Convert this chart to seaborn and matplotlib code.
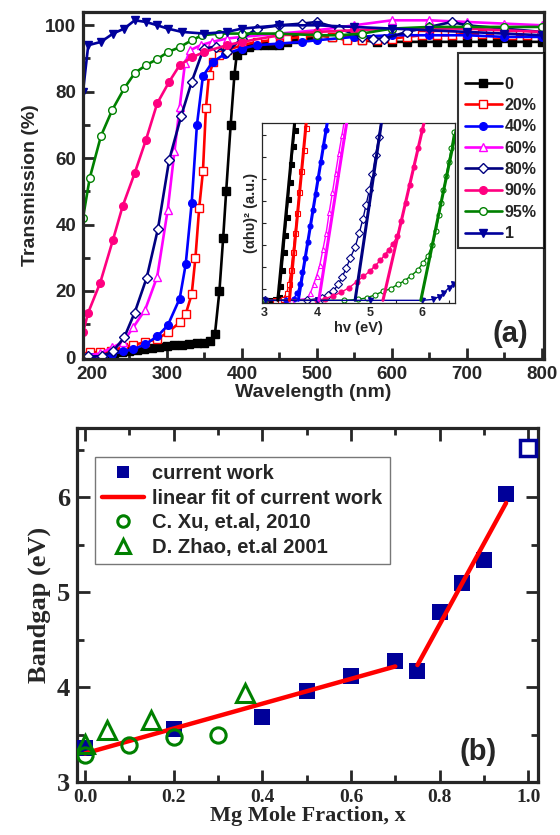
import numpy as np
import matplotlib
matplotlib.use("Agg")
import matplotlib.pyplot as plt
import seaborn as sns
from matplotlib.ticker import MultipleLocator

sns.set_style("ticks")
plt.rcParams['font.family'] = ['Liberation Sans', 'DejaVu Sans']

# ---------------- (a) transmission data ----------------
labels_a = ['0', '20%', '40%', '60%', '80%', '90%', '95%', '1']

wl_0 = [188, 200, 210, 220, 230, 240, 250, 260, 270, 280, 290, 300, 310, 320, 330, 340, 350, 358, 364, 370,
        375, 379, 385, 390, 393, 400, 410, 420, 430, 440, 450, 460, 470, 480, 490, 500, 520, 540, 560, 580,
        600, 620, 640, 660, 680, 700, 720, 740, 760, 780, 800]
T_0 = [0, 0.3, 0.6, 0.9, 1.2, 1.6, 2.0, 2.3, 2.6, 2.9, 3.2, 3.4, 3.6, 3.8, 4.0, 4.2, 4.4, 4.8, 7, 20,
       36, 50, 70, 85, 91, 92.5, 93.5, 94, 94, 94, 94, 95, 96, 96.5, 97, 97, 96.5, 96, 95.5, 95,
       95, 95, 95, 95, 95, 95, 95, 95, 95, 95, 95]

wl_20 = [188, 197, 211, 226, 241, 255, 271, 287, 301, 317, 325, 333, 338, 343, 348, 352, 356, 362, 370, 380,
         400, 420, 440, 460, 480, 500, 520, 540, 560, 580, 600, 620, 640, 660, 680, 700, 720, 740, 760, 780, 800]
T_20 = [0.5, 1.5, 1.5, 2, 3, 3.8, 4.5, 5.5, 7.5, 10.5, 13, 19, 30, 45, 56, 75, 85, 89, 91, 92.5,
        94, 95, 95.5, 96, 96.5, 97, 96.5, 95.5, 95.5, 95.5, 96, 96.5, 97, 97, 97, 97.5, 97.5, 97.5, 97, 97, 97]

wl_40 = [188, 200, 215, 227, 241, 255, 271, 287, 301, 317, 325, 333, 340, 348, 361, 377, 400, 420, 450, 480,
         500, 550, 600, 650, 700, 750, 800]
T_40 = [0, 0, 0.2, 1, 1.8, 2.4, 3.9, 6.3, 9.6, 17.7, 28, 46.5, 70, 84.7, 89, 91.3, 93, 94, 94.5, 95,
        95.5, 96.5, 97, 97, 97, 96.5, 96.5]

wl_60 = [195, 211, 227, 241, 255, 271, 287, 301, 310, 317, 324, 331, 345, 360, 380, 400, 450, 500, 550, 600,
         650, 700, 750, 800]
T_60 = [0.5, 1.2, 3, 4.5, 9, 14.4, 24.3, 44.4, 62, 75.4, 88.5, 92.5, 94, 95, 96, 96.5, 97.5, 98.5, 100, 101.5,
        101.5, 101, 100.5, 100]

wl_80 = [195, 213, 228, 243, 257, 273, 288, 303, 319, 333, 349, 365, 380, 400, 420, 450, 480, 500, 530, 560,
         575, 590, 620, 650, 680, 700, 750, 800]
T_80 = [0.3, 0.3, 1.8, 6, 13.5, 24, 38.7, 59.5, 72.7, 83, 93, 93.5, 92, 96, 99, 100, 100.5, 101, 99, 96.5,
        96, 96, 98, 99.5, 101, 100, 99, 98]

wl_90 = [188, 195, 211, 228, 241, 257, 272, 287, 303, 317, 333, 350, 380, 400, 450, 500, 550, 600, 650, 700,
         750, 800]
T_90 = [7.5, 13.5, 22.5, 35.4, 45.6, 55.5, 65.5, 76.5, 83, 88, 90.3, 92, 94, 95, 97, 98, 98.5, 99, 99, 99,
        98.5, 98]

wl_95 = [188, 197, 212, 227, 243, 257, 272, 287, 301, 317, 333, 347, 370, 400, 450, 500, 530, 560, 600, 650,
         700, 750, 800]
T_95 = [42, 54, 66.7, 74.5, 81, 85.6, 88, 89.8, 91.9, 93.4, 95.5, 97, 97.5, 97.5, 97.5, 97, 97, 97.5, 99, 99.5,
        99.5, 99.5, 99.5]

wl_1 = [188, 195, 212, 228, 243, 257, 272, 287, 301, 320, 350, 380, 400, 450, 500, 550, 600, 650, 700, 750, 800]
T_1 = [80, 94, 95, 97.5, 99, 101.5, 101, 100, 99, 98, 97.5, 98, 99, 100, 100, 99.5, 99, 98.5, 98, 97.5, 97]

# ---------------- (a) inset: Tauc plot ----------------
hv_0 = [3.00, 3.10, 3.20, 3.27, 3.30, 3.33, 3.36, 3.39, 3.42, 3.45, 3.48, 3.51, 3.54, 3.57, 3.60]
a_0 = [0, 0, 0.5, 2, 8, 17, 27, 37, 47, 57, 67, 77, 87, 96, 106]
hv_20 = [3.00, 3.20, 3.35, 3.42, 3.46, 3.50, 3.54, 3.58, 3.62, 3.66, 3.70, 3.74, 3.78, 3.82]
a_20 = [0, 0, 1, 4, 9, 17, 27, 38, 49, 61, 73, 85, 97, 109]
hv_40 = [3.00, 3.40, 3.55, 3.62, 3.67, 3.72, 3.77, 3.82, 3.87, 3.92, 3.97, 4.02, 4.07, 4.12, 4.17, 4.22]
a_40 = [0, 0, 1, 4, 9, 16, 24, 33, 42, 51, 60, 69, 78, 87, 96, 105]
hv_60 = [3.00, 3.50, 3.80, 3.87, 3.93, 3.99, 4.05, 4.11, 4.17, 4.23, 4.29, 4.35, 4.41, 4.47, 4.53, 4.58]
a_60 = [0, 0, 1, 4, 9, 14, 20, 29, 38, 50, 61, 72, 83, 93, 104, 112]
hv_80 = [3.00, 3.80, 4.10, 4.20, 4.30, 4.40, 4.47, 4.55, 4.63, 4.72, 4.80, 4.87, 4.93, 4.99, 5.05, 5.11, 5.17, 5.23]
a_80 = [0, 0, 1.5, 3, 5, 9, 13, 18, 24, 30, 38, 46, 54, 62, 71, 82, 92, 103]
hv_90 = [3.00, 4.00, 4.15, 4.30, 4.45, 4.60, 4.75, 4.88, 5.00, 5.10, 5.20, 5.28, 5.36, 5.44, 5.52, 5.60, 5.68,
         5.76, 5.84, 5.92, 6.00, 6.05]
a_90 = [0, 0, 1, 2.5, 4.5, 7, 10.5, 13.5, 16.5, 19.5, 22.5, 25.5, 28.5, 32, 36, 45, 55, 65, 75, 86, 96, 103]
hv_95 = [3.00, 4.50, 4.78, 4.95, 5.09, 5.25, 5.40, 5.53, 5.66, 5.79, 5.91, 6.01, 6.10, 6.19, 6.26, 6.31, 6.36,
         6.40, 6.45, 6.50, 6.55, 6.60]
a_95 = [0, 0, 0.5, 1.5, 3, 5, 6.6, 9, 11, 14, 17, 21, 25, 31, 39, 48, 55, 62, 70, 78, 86, 95]
hv_1 = [3.00, 4.00, 5.00, 6.00, 6.20, 6.31, 6.40, 6.50, 6.58]
a_1 = [0, 0, 0, 0, 0.5, 2, 4, 7, 9]
# linear-fit extrapolations: photon energy at zero and at full scale
fit_lo = [3.25, 3.47, 3.64, 4.03, 4.72, 5.25, 5.97]
fit_hi = [3.57, 3.79, 4.19, 4.56, 5.22, 6.03, 6.67]
inset_full = 100

# ---------------- (b) bandgap data ----------------
x_cur = [0.0, 0.2, 0.4, 0.5, 0.6, 0.7, 0.75, 0.8, 0.85, 0.9, 0.95]
eg_cur = [3.36, 3.56, 3.68, 3.96, 4.12, 4.27, 4.17, 4.79, 5.10, 5.34, 6.03]
x_mgo = [1.0]
eg_mgo = [6.52]
x_xu = [0.0, 0.1, 0.2, 0.3]
eg_xu = [3.28, 3.39, 3.47, 3.50]
x_zhao = [0.0, 0.05, 0.15, 0.36]
eg_zhao = [3.40, 3.55, 3.65, 3.94]
fit1_n = 6  # first six points -> low-x fit, remainder -> high-x fit

# ---------------- styles ----------------
colors_a = ['#000000', '#FF0000', '#0000FF', '#FF00FF', '#000080', '#FF0080', '#008000', '#00009C']
markers_a = ['s', 's', 'o', '^', 'D', 'o', 'o', 'v']
filled_a = [True, False, True, False, False, True, False, True]
NAVY = '#000099'
GREEN = '#008000'
RED = '#FF0000'


def draw(ax, x, y, color, marker=None, filled=True, ms=5, lw=1.8, mew=1.0, ls='-', z=2):
    kw = dict(color=color, linewidth=lw, linestyle=ls, estimator=None, sort=False,
              legend=False, zorder=z, ax=ax)
    if marker is not None:
        kw.update(marker=marker, markersize=ms, mfc=color if filled else 'white', mec=color, mew=mew)
    sns.lineplot(x=np.asarray(x, float), y=np.asarray(y, float), **kw)
    return ax.lines[-1]


fig = plt.figure(figsize=(5.6, 8.35), dpi=100)

# ===== panel (a) =====
ax1 = fig.add_axes([83 / 560, 1 - 359 / 835, (544 - 83) / 560, (359 - 12) / 835])
series_a = [(wl_0, T_0), (wl_20, T_20), (wl_40, T_40), (wl_60, T_60),
            (wl_80, T_80), (wl_90, T_90), (wl_95, T_95), (wl_1, T_1)]
handles_a = []
for i, (wl, T) in enumerate(series_a):
    h = draw(ax1, wl, T, colors_a[i], markers_a[i], filled_a[i], ms=5.5, lw=1.9, mew=1.0, z=2 + i * 0.01)
    handles_a.append(h)

ax1.set_xlim(188, 803)
ax1.set_ylim(-0.5, 104)
ax1.xaxis.set_major_locator(MultipleLocator(100))
ax1.xaxis.set_minor_locator(MultipleLocator(50))
ax1.yaxis.set_major_locator(MultipleLocator(20))
ax1.yaxis.set_minor_locator(MultipleLocator(10))
ax1.tick_params(which='both', direction='in', top=False, right=False, width=2, labelsize=13.5, pad=5)
ax1.tick_params(which='major', length=8)
ax1.tick_params(which='minor', length=5)
for lbl in ax1.get_xticklabels() + ax1.get_yticklabels():
    lbl.set_fontweight('bold')
for s in ax1.spines.values():
    s.set_linewidth(2.3)
ax1.set_xlabel('Wavelength (nm)', fontsize=14, fontweight='bold', labelpad=1)
ax1.set_ylabel('Transmission (%)', fontsize=14, fontweight='bold', labelpad=4)
ax1.text(0.926, 0.072, '(a)', transform=ax1.transAxes, fontsize=21, fontweight='bold',
         ha='center', va='center')

leg1 = ax1.legend(handles_a, labels_a, loc='upper right', bbox_to_anchor=(1.0, 0.882),
                  borderaxespad=0, frameon=True, fancybox=False, edgecolor='black',
                  prop={'weight': 'bold', 'size': 11.5}, handlelength=2.3, handletextpad=0.2,
                  labelspacing=0.40, borderpad=0.45, numpoints=1, title=' ', title_fontsize=7)
leg1.get_frame().set_linewidth(1.5)

# ===== inset =====
axi = fig.add_axes([262 / 560, 1 - 303 / 835, (455 - 262) / 560, (303 - 123) / 835])
inset_series = [(hv_0, a_0), (hv_20, a_20), (hv_40, a_40), (hv_60, a_60),
                (hv_80, a_80), (hv_90, a_90), (hv_95, a_95), (hv_1, a_1)]
for i, (hv, a) in enumerate(inset_series):
    draw(axi, hv, a, colors_a[i], markers_a[i], filled_a[i], ms=3.6, lw=1.0, mew=0.8, z=2)
for i in range(len(fit_lo)):
    draw(axi, [fit_lo[i], fit_hi[i]], [0, inset_full], colors_a[i], lw=2.2, z=3)
axi.set_xlim(2.95, 6.62)
axi.set_ylim(-1.5, 100)
axi.xaxis.set_major_locator(MultipleLocator(1))
axi.xaxis.set_minor_locator(MultipleLocator(0.5))
axi.set_yticks(np.linspace(6.3, 93, 8))
axi.tick_params(axis='y', which='both', direction='in', length=3, width=0.8, labelleft=False)
axi.tick_params(axis='x', which='major', direction='in', length=4, width=0.8, labelsize=9, pad=3)
axi.tick_params(axis='x', which='minor', direction='in', length=2.5, width=0.8)
for lbl in axi.get_xticklabels():
    lbl.set_fontweight('bold')
for s in axi.spines.values():
    s.set_linewidth(0.9)
axi.set_xlabel('hv (eV)', fontsize=10.5, fontweight='bold', labelpad=1)
axi.set_ylabel('(αhυ)² (a.u.)', fontsize=10.5, fontweight='bold', labelpad=3)

# ===== panel (b) =====
ax2 = fig.add_axes([77 / 560, 1 - 782 / 835, (538 - 77) / 560, (782 - 428) / 835])
x_cur_a = np.asarray(x_cur)
eg_cur_a = np.asarray(eg_cur)
xa, ya = x_cur_a[:fit1_n], eg_cur_a[:fit1_n]
xb, yb = x_cur_a[fit1_n:], eg_cur_a[fit1_n:]
p1 = np.polyfit(xa, ya, 1)
p2 = np.polyfit(xb, yb, 1)
xf1 = np.array([xa.min(), xa.max()])
xf2 = np.array([xb.min(), xb.max()])

h_cur = draw(ax2, x_cur, eg_cur, NAVY, 's', True, ms=11.5, lw=0, mew=0, ls='', z=3)
draw(ax2, x_mgo, eg_mgo, NAVY, 's', False, ms=11, lw=0, mew=2.5, ls='', z=3)
h_fit = draw(ax2, xf1, np.polyval(p1, xf1), RED, lw=3.2, z=4)
draw(ax2, xf2, np.polyval(p2, xf2), RED, lw=3.2, z=4)
h_xu = draw(ax2, x_xu, eg_xu, GREEN, 'o', False, ms=11, lw=0, mew=2.2, ls='', z=5)
h_zhao = draw(ax2, x_zhao, eg_zhao, GREEN, '^', False, ms=13, lw=0, mew=2.2, ls='', z=5)
for h in (h_xu, h_zhao):
    h.set_markerfacecolor('none')

ax2.set_xlim(-0.018, 1.022)
ax2.set_ylim(3.0, 6.73)
ax2.xaxis.set_major_locator(MultipleLocator(0.2))
ax2.xaxis.set_minor_locator(MultipleLocator(0.1))
ax2.yaxis.set_major_locator(MultipleLocator(1))
ax2.yaxis.set_minor_locator(MultipleLocator(0.5))
ax2.tick_params(which='both', direction='in', top=True, right=True, width=2, pad=5)
ax2.tick_params(which='major', length=9)
ax2.tick_params(which='minor', length=5)
for lbl in ax2.get_xticklabels():
    lbl.set_fontfamily('Liberation Serif')
    lbl.set_fontweight('bold')
    lbl.set_fontsize(14)
for lbl in ax2.get_yticklabels():
    lbl.set_fontfamily('Liberation Serif')
    lbl.set_fontweight('bold')
    lbl.set_fontsize(19)
for s in ax2.spines.values():
    s.set_linewidth(2.3)
ax2.set_xlabel('Mg Mole Fraction, x', fontsize=16, fontweight='bold', family='Liberation Serif', labelpad=0)
ax2.set_ylabel('Bandgap (eV)', fontsize=19, fontweight='bold', family='Liberation Serif', labelpad=4)
ax2.text(0.87, 0.085, '(b)', transform=ax2.transAxes, fontsize=21, fontweight='bold',
         ha='center', va='center')

leg2 = ax2.legend([h_cur, h_fit, h_xu, h_zhao],
                  ['current work', 'linear fit of current work', 'C. Xu, et.al, 2010', 'D. Zhao, et.al 2001'],
                  loc='upper left', bbox_to_anchor=(0.039, 0.918), borderaxespad=0, frameon=True,
                  fancybox=False, edgecolor='#555555', prop={'weight': 'bold', 'size': 14.5},
                  handlelength=2.1, handletextpad=0.4, labelspacing=0.28, borderpad=0.35,
                  markerscale=0.75, numpoints=1)
leg2.get_frame().set_linewidth(1.0)

fig.savefig('out.png', dpi=100)
